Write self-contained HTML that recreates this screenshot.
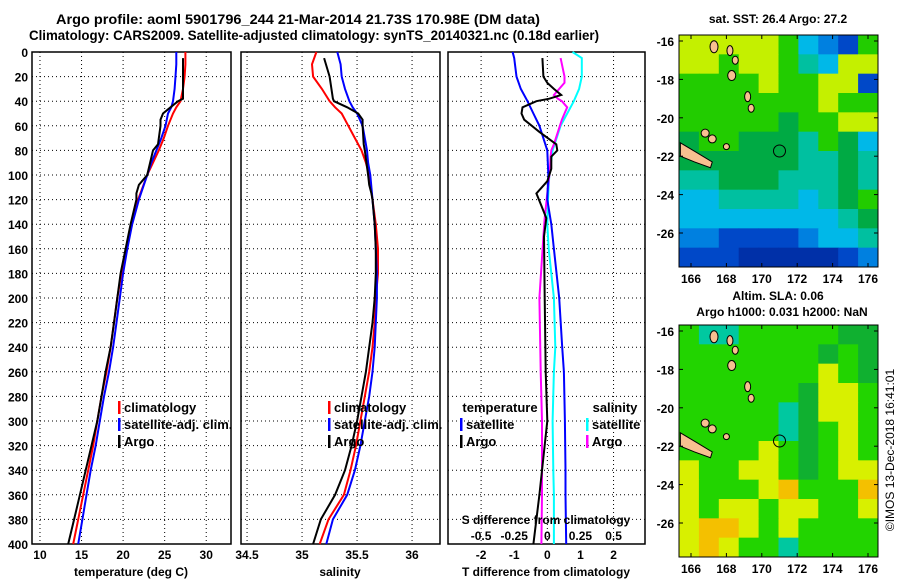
<!DOCTYPE html>
<html><head><meta charset="utf-8"><style>
body{margin:0;background:#fff;}
svg{display:block;font-family:"Liberation Sans",sans-serif;font-weight:bold;}
text{fill:#000;}
</style></head><body>
<svg id="fig" width="900" height="580" viewBox="0 0 900 580" xmlns="http://www.w3.org/2000/svg">
<text x="56" y="24" font-size="14" textLength="484" lengthAdjust="spacingAndGlyphs">Argo profile: aoml 5901796_244 21-Mar-2014 21.73S 170.98E (DM data)</text>
<text x="29" y="40" font-size="14" textLength="570" lengthAdjust="spacingAndGlyphs">Climatology: CARS2009. Satellite-adjusted climatology: synTS_20140321.nc (0.18d earlier)</text>
<g id="panels"></g>
<g id="maps"></g>
<text transform="translate(894,450) rotate(-90)" font-size="12" font-weight="normal" text-anchor="middle">©IMOS 13-Dec-2018 16:41:01</text>
</svg>
<script>
// ---- data ----
const tDepth = [0,10,20,30,40,45,50,60,70,80,90,100,120,140,160,180,200,220,240,260,280,300,320,340,360,380,400];
const tClim  = [27.5,27.5,27.4,27.2,26.9,26.4,26.0,25.4,24.9,24.3,23.6,22.9,21.8,21.0,20.4,19.8,19.3,18.9,18.5,18.0,17.4,16.9,16.4,15.8,15.2,14.6,14.0];
const tSat   = [26.4,26.4,26.3,26.2,26.0,25.8,25.4,25.1,24.6,24.0,23.4,22.9,21.9,21.1,20.5,20.0,19.6,19.2,18.8,18.3,17.7,17.2,16.7,16.1,15.6,15.1,14.6];
const aDepth = [5,20,38,40,45,50,55,60,75,80,100,108,115,120,140,160,180,200,220,240,260,280,300,320,340,360,380,400];
const tArgo  = [27.2,27.2,27.2,26.6,25.7,24.8,24.5,24.5,24.2,23.6,22.9,21.9,21.6,21.6,20.9,20.3,19.7,19.3,18.9,18.5,17.9,17.4,16.9,16.2,15.5,14.8,14.1,13.4];
const sClim  = [35.13,35.09,35.10,35.18,35.25,35.30,35.36,35.42,35.48,35.54,35.58,35.61,35.64,35.67,35.69,35.69,35.67,35.66,35.64,35.61,35.57,35.53,35.49,35.44,35.38,35.24,35.16];
const sSat   = [35.32,35.35,35.36,35.39,35.43,35.46,35.50,35.55,35.57,35.59,35.60,35.62,35.64,35.66,35.67,35.68,35.68,35.67,35.66,35.64,35.61,35.57,35.53,35.48,35.41,35.28,35.22];
const sArgo  = [35.20,35.25,35.28,35.29,35.41,35.51,35.55,35.55,35.56,35.57,35.60,35.61,35.63,35.64,35.66,35.67,35.67,35.66,35.64,35.61,35.58,35.54,35.50,35.45,35.39,35.30,35.17,35.10];
const dDepth = [0,5,20,30,40,50,60,80,100,120,140,160,200,240,260,300,340,360,400];
const dtSat  = [-1.05,-1.0,-0.93,-0.8,-0.6,-0.42,-0.24,0.0,0.03,0.0,0.12,0.2,0.36,0.45,0.5,0.53,0.55,0.55,0.57];
const dsSat  = [0.19,0.26,0.26,0.24,0.20,0.15,0.10,0.04,0.015,0.005,0.0,0.01,0.05,0.06,0.05,0.04,0.045,0.05,0.05];
const adDepth= [5,20,25,30,35,38,40,45,50,55,65,75,80,85,95,105,115,125,135,150,200,260,300,360,400];
const dtArgo = [-0.15,-0.12,0.0,0.2,0.42,0.06,-0.33,-0.75,-0.78,-0.7,-0.24,0.27,0.3,0.12,0.12,0.0,-0.33,-0.18,-0.03,-0.1,-0.08,-0.05,0.0,-0.24,-0.42];
const dsArgo = [0.10,0.13,0.13,0.09,0.05,0.08,0.11,0.15,0.13,0.11,0.08,0.05,0.03,0.025,0.02,0.01,0.0,-0.01,-0.02,-0.03,-0.06,-0.05,-0.04,-0.04,-0.045];
const depthTicks = [0,20,40,60,80,100,120,140,160,180,200,220,240,260,280,300,320,340,360,380,400];
const tTicks = [10,15,20,25,30];
const sTicks = [34.5,35,35.5,36];
const dTicks = [-2,-1,0,1,2];
const dsTickLabels = ["-0.5","-0.25","0","0.25","0.5"];
const dsTicks = [-0.5,-0.25,0,0.25,0.5];
const lonTicks = [166,168,170,172,174,176];
const latTicks = [-16,-18,-20,-22,-24,-26];
const sstGrid = [
"YYYYYGCBNG","YYGYYGTCYY","GGGGYGGYYN","GGGGGGGYGG","GGGGGDGGYY","DGGDDDTGDC",
"DDDDDDTTDT","TTDDDTTTDT","CCTTTTCTDG","CCCCCCCCTD","BBNNNNBCCT","NNNKKKKKNB"];
const slaGrid = [
"GTTGGGGGDD","GGGGGGGDGD","GGGGGGGYGD","GGGGGGDYYG","GGGGGTDYYG","GGGGGTDGYG",
"GGGGYGDGYG","YGGYYGDGYY","YGGGYOGGGO","YGYYGYYGGY","YOOYGYGGGG","YOYGGTGGGG"];
// ---- helpers ----
const NS="http://www.w3.org/2000/svg";
function mk(tag,attrs,parent){const e=document.createElementNS(NS,tag);for(const k in attrs)e.setAttribute(k,attrs[k]);parent.appendChild(e);return e;}
const panels=document.getElementById('panels');
const Y0=52,Y1=544;
function yD(d){return Y0+(d/400)*(Y1-Y0);}
function scale(a,b,x0,x1){return v=>x0+(v-a)/(b-a)*(x1-x0);}
const xT=scale(9.04,32.98,32,231);
const xS=scale(34.445,36.254,241,440);
const xD=scale(-3.0,2.95,448,645);
const xDS=v=>xD(v*4);

function frame(x0,x1,name,gridX){
  const g=mk('g',{},panels);
  
  
  depthTicks.forEach(d=>{ if(d>0&&d<400){const l=mk('line',{x1:x0,x2:x1,y1:yD(d),y2:yD(d),stroke:'#000','stroke-dasharray':'1,3','stroke-width':1},g);
    
    }});
  gridX.forEach(x=>{const l=mk('line',{x1:x,x2:x,y1:Y0,y2:Y1,stroke:'#000','stroke-dasharray':'1,3','stroke-width':1},g);
    
    });
  const r=mk('rect',{x:x0,y:Y0,width:x1-x0,height:Y1-Y0,fill:'none',stroke:'#000','stroke-width':1.5},g);
  
  
  return g;
}
function line(g,xs,ds,fx,color,name,w){
  const pts=xs.map((v,i)=>fx(v).toFixed(1)+','+yD(ds[i]).toFixed(1)).join(' ');
  const p=mk('polyline',{points:pts,fill:'none',stroke:color,'stroke-width':w||2},g);
  
  
}
function txt(g,x,y,s,size,anchor,name){
  const t=mk('text',{x:x,y:y,'font-size':size,'text-anchor':anchor||'middle'},g);
  t.textContent=s;
  
  
  return t;
}
function legend(g,x,y,items){
  items.forEach((it,i)=>{
    const yy=y+i*17;
    const b=mk('rect',{x:x,y:yy-11,width:2.5,height:13,fill:it[1]},g);
    
    
    txt(g,x+6,yy,it[0],13,'start','legend-entry');
  });
}
const dl=mk('g',{},panels);


depthTicks.forEach(d=>txt(dl,28,yD(d)+5,String(d),12,'end','depth-tick-label'));
const p1=frame(32,231,'temperature-panel',tTicks.map(xT));
line(p1,tClim,tDepth,xT,'#ff0000','temp-climatology-line');
line(p1,tSat,tDepth,xT,'#0000ff','temp-satellite-line');
line(p1,tArgo,aDepth,xT,'#000000','temp-argo-line');
tTicks.forEach(t=>txt(p1,xT(t),559,String(t),12,'middle','temp-tick-label'));
txt(p1,131,576,'temperature (deg C)',12,'middle','x-axis-title-temperature');
legend(p1,118,412,[['climatology','#ff0000'],['satellite-adj. clim.','#0000ff'],['Argo','#000000']]);
const p2=frame(241,440,'salinity-panel',sTicks.map(xS));
line(p2,sClim,tDepth,xS,'#ff0000','sal-climatology-line');
line(p2,sSat,tDepth,xS,'#0000ff','sal-satellite-line');
line(p2,sArgo,aDepth,xS,'#000000','sal-argo-line');
sTicks.forEach(t=>txt(p2,xS(t),559,String(t),12,'middle','sal-tick-label'));
txt(p2,340,576,'salinity',12,'middle','x-axis-title-salinity');
legend(p2,328,412,[['climatology','#ff0000'],['satellite-adj. clim.','#0000ff'],['Argo','#000000']]);
const p3=frame(448,645,'difference-panel',[-2,0,2].map(xD));
line(p3,dsSat,dDepth,xDS,'#00ffff','sal-diff-satellite-line');
line(p3,dsArgo,adDepth,xDS,'#ff00ff','sal-diff-argo-line');
line(p3,dtSat,dDepth,xD,'#0000ff','temp-diff-satellite-line');
line(p3,dtArgo,adDepth,xD,'#000000','temp-diff-argo-line');
dTicks.forEach(t=>txt(p3,xD(t),559,String(t),12,'middle','tdiff-tick-label'));
txt(p3,546,576,'T difference from climatology',12,'middle','x-axis-title-tdiff');
txt(p3,546,524,'S difference from climatology',12,'middle','sdiff-axis-title');
dsTicks.forEach((t,i)=>txt(p3,xDS(t),540,dsTickLabels[i],12,'middle','sdiff-tick-label'));
txt(p3,500,412,'temperature',13,'middle','legend-title-temperature');
txt(p3,615,412,'salinity',13,'middle','legend-title-salinity');
legend(p3,460,429,[['satellite','#0000ff'],['Argo','#000000']]);
legend(p3,586,429,[['satellite','#00ffff'],['Argo','#ff00ff']]);
// ---- maps ----
const maps=document.getElementById('maps');
const COL={Y:'#c4f000',G:'#22cc00',D:'#00aa44',T:'#00c0a0',C:'#00b8e8',B:'#0080e0',N:'#0048c8',K:'#0030a8',O:'#f4c400'};
const COL2={Y:'#d8f000',G:'#22d400',D:'#10b030',T:'#00c8a0',O:'#f4c000'};
const lonX=scale(166,176,691,868);
function drawMap(y0,title1,title2,grid,cols,name){
  const g=mk('g',{},maps);
  
  
  const x0=679,x1=878,y1=y0+232;
  const latY=scale(-16,-26,y0+6,y0+198);
  const nr=grid.length,nc=grid[0].length,cw=(x1-x0)/nc,ch=(y1-y0)/nr;
  grid.forEach((row,r)=>{[...row].forEach((c,k)=>{
    const cell=mk('rect',{x:x0+k*cw,y:y0+r*ch,width:cw+0.5,height:ch+0.5,fill:cols[c]},g);
    
    
  });});
  const isl=[[167.3,-16.3,4,6],[168.2,-16.5,3,5],[168.5,-17,3,4],[168.3,-17.8,4,5],[169.2,-18.9,3,5],[169.4,-19.5,3,4],[166.8,-20.8,4,4],[167.2,-21.1,4,4],[168.0,-21.5,3,3]];
  isl.forEach(s=>{const e=mk('ellipse',{cx:lonX(s[0]),cy:latY(s[1]),rx:s[2],ry:s[3],fill:'#f8c090',stroke:'#000','stroke-width':1},g);
    
    });
  const nc2=mk('polygon',{points:[[165.4,-21.3],[166.3,-21.8],[167.2,-22.3],[167.1,-22.6],[166.2,-22.3],[165.4,-22]].map(p=>lonX(p[0])+','+latY(p[1])).join(' '),fill:'#f8c090',stroke:'#000','stroke-width':1},g);
  
  
  const ring=mk('circle',{cx:lonX(171),cy:latY(-21.73),r:6,fill:'none',stroke:'#000','stroke-width':1},g);
  
  
  const fr=mk('rect',{x:x0,y:y0,width:x1-x0,height:y1-y0,fill:'none',stroke:'#000','stroke-width':1},g);
  
  
  latTicks.forEach(l=>{mk('line',{x1:x0,x2:x0+4,y1:latY(l),y2:latY(l),stroke:'#000'},g);mk('line',{x1:x1-4,x2:x1,y1:latY(l),y2:latY(l),stroke:'#000'},g);
    txt(g,x0-5,latY(l)+5,String(l),12,'end','lat-tick-label');});
  lonTicks.forEach(l=>{mk('line',{x1:lonX(l),x2:lonX(l),y1:y0,y2:y0+4,stroke:'#000'},g);mk('line',{x1:lonX(l),x2:lonX(l),y1:y1-4,y2:y1,stroke:'#000'},g);
    txt(g,lonX(l),y1+16,String(l),12,'middle','lon-tick-label');});
  txt(g,778,title2?y0-25:y0-12,title1,12,'middle','map-title');
  if(title2)txt(g,782,y0-9,title2,12,'middle','map-subtitle');
}
drawMap(35,'sat. SST: 26.4 Argo: 27.2',null,sstGrid,COL,'sst-map');
drawMap(325,'Altim. SLA: 0.06','Argo h1000: 0.031 h2000: NaN',slaGrid,COL2,'sla-map');
</script>
</body></html>
